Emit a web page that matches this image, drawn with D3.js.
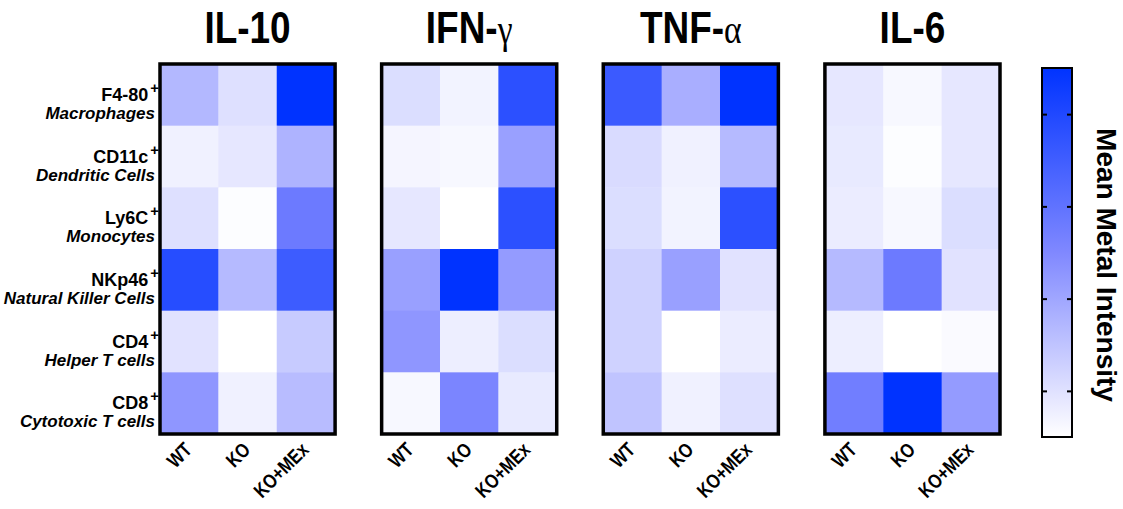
<!DOCTYPE html>
<html>
<head>
<meta charset="utf-8">
<script src="https://cdn.jsdelivr.net/npm/d3@7"></script>
<style>
  body { margin: 0; background: #fff; }
  svg { display: block; }
  text { font-family: "Liberation Sans", Arial, sans-serif; fill: #000; }
</style>
</head>
<body>
<svg id="chart"></svg>
<script>
const cytokines = ["IL-10", "IFN-γ", "TNF-α", "IL-6"];
const groups = ["WT", "KO", "KO+MEx"];
const markers = ["F4-80", "CD11c", "Ly6C", "NKp46", "CD4", "CD8"];
const cellTypes = ["Macrophages", "Dendritic Cells", "Monocytes",
  "Natural Killer Cells", "Helper T cells", "Cytotoxic T cells"];

// relative intensity, rows = markers, columns = groups
const il10 = [
  [0.30, 0.13, 1.00],
  [0.06, 0.10, 0.32],
  [0.13, 0.01, 0.58],
  [0.85, 0.29, 0.76],
  [0.12, 0.00, 0.22],
  [0.44, 0.06, 0.28]
];
const ifng = [
  [0.14, 0.05, 0.83],
  [0.04, 0.03, 0.40],
  [0.10, 0.00, 0.83],
  [0.40, 1.00, 0.42],
  [0.44, 0.07, 0.14],
  [0.03, 0.52, 0.09]
];
const tnfa = [
  [0.77, 0.34, 1.00],
  [0.15, 0.06, 0.29],
  [0.14, 0.05, 0.83],
  [0.19, 0.40, 0.12],
  [0.19, 0.00, 0.08],
  [0.25, 0.06, 0.13]
];
const il6 = [
  [0.10, 0.03, 0.10],
  [0.09, 0.01, 0.10],
  [0.08, 0.03, 0.14],
  [0.29, 0.58, 0.12],
  [0.07, 0.00, 0.02],
  [0.56, 1.00, 0.42]
];
const colorTicks = [0.125, 0.375, 0.625, 0.875];
const colorLabel = "Mean Metal Intensity";

const WIDTH = 1123;
const HEIGHT = 509;
const TOP = 64;
const BOTTOM = 434;

const svg = d3.select("#chart").attr("width", WIDTH).attr("height", HEIGHT);

const panelX = d3.scaleBand().domain(cytokines).range([160, 1000]).paddingInner(0.21);
const rowY = d3.scaleBand().domain(markers).range([TOP, BOTTOM]);
const colX = d3.scaleBand().domain(groups).range([0, panelX.bandwidth()]);
const color = d3.scaleLinear()
  .domain([0, 0.5, 1])
  .range(["#ffffff", "#8088ff", "#0033ff"]);

const panels = cytokines.map((name, i) => ({ name, rows: [il10, ifng, tnfa, il6][i] }));

const panel = svg.selectAll("g.panel")
  .data(panels)
  .enter()
  .append("g")
  .attr("class", "panel")
  .attr("transform", p => `translate(${panelX(p.name)},0)`);

// cells
panel.selectAll("rect.cell")
  .data(p => p.rows.flatMap((row, r) => row.map((v, c) => ({ v, r, c }))))
  .enter()
  .append("rect")
  .attr("class", "cell")
  .attr("x", d => colX(groups[d.c]))
  .attr("y", d => rowY(markers[d.r]))
  .attr("width", colX.bandwidth() + 0.5)
  .attr("height", rowY.bandwidth() + 0.5)
  .attr("fill", d => color(d.v));

// frame
panel.append("rect")
  .attr("x", 0)
  .attr("y", TOP)
  .attr("width", panelX.bandwidth())
  .attr("height", BOTTOM - TOP)
  .attr("fill", "none")
  .attr("stroke", "#000")
  .attr("stroke-width", 3.5);

// titles
const title = panel.append("text")
  .attr("text-anchor", "middle")
  .attr("transform", `translate(${panelX.bandwidth() / 2},43) scale(0.84,1)`)
  .style("font-size", "44px")
  .style("font-weight", "bold");
title.append("tspan").text(p => p.name.replace(/[α-ω]$/, ""));
title.append("tspan")
  .style("font-family", "'Liberation Serif', serif")
  .style("font-weight", "normal")
  .style("font-size", "40px")
  .text(p => (p.name.match(/[α-ω]$/) || [""])[0]);

// x labels
panel.selectAll("text.xlab")
  .data(groups)
  .enter()
  .append("text")
  .attr("class", "xlab")
  .attr("text-anchor", "end")
  .attr("transform", g =>
    `translate(${colX(g) + colX.bandwidth() / 2 + 4},${BOTTOM + 17}) rotate(-45) scale(0.82,1)`)
  .style("font-size", "20px")
  .style("font-weight", "bold")
  .text(g => g);

// row labels
const rowLab = svg.append("g");
const first = rowLab.selectAll("text.marker")
  .data(markers)
  .enter()
  .append("text")
  .attr("class", "marker")
  .attr("x", 159)
  .attr("y", m => rowY(m) + rowY.bandwidth() / 2 + 6)
  .attr("text-anchor", "end")
  .style("font-size", "18px")
  .style("font-weight", "bold");
first.append("tspan").text(m => m);
first.append("tspan").attr("dx", 2).attr("dy", -8).style("font-size", "15px").text("+");

rowLab.selectAll("text.cell-type")
  .data(cellTypes)
  .enter()
  .append("text")
  .attr("class", "cell-type")
  .attr("x", 155)
  .attr("y", (t, i) => rowY(markers[i]) + rowY.bandwidth() / 2 + 24)
  .attr("text-anchor", "end")
  .style("font-size", "17px")
  .style("font-weight", "bold")
  .style("font-style", "italic")
  .text(t => t);

// colour bar
const CB_X = 1042, CB_W = 30, CB_TOP = 68, CB_BOTTOM = 437;
const grad = svg.append("defs").append("linearGradient")
  .attr("id", "cbar")
  .attr("x1", 0).attr("y1", 1).attr("x2", 0).attr("y2", 0);
grad.selectAll("stop")
  .data(d3.range(0, 1.0001, 0.1))
  .enter()
  .append("stop")
  .attr("offset", t => t)
  .attr("stop-color", t => color(t));

const cbY = d3.scaleLinear().domain([0, 1]).range([CB_BOTTOM, CB_TOP]);

svg.append("rect")
  .attr("x", CB_X)
  .attr("y", CB_TOP)
  .attr("width", CB_W)
  .attr("height", CB_BOTTOM - CB_TOP)
  .attr("fill", "url(#cbar)")
  .attr("stroke", "#000")
  .attr("stroke-width", 2);

const leftTicks = svg.append("g")
  .attr("transform", `translate(${CB_X},0)`)
  .call(d3.axisRight(cbY).tickValues(colorTicks).tickSize(5).tickFormat(""));
const rightTicks = svg.append("g")
  .attr("transform", `translate(${CB_X + CB_W},0)`)
  .call(d3.axisLeft(cbY).tickValues(colorTicks).tickSize(5).tickFormat(""));
[leftTicks, rightTicks].forEach(a => {
  a.select(".domain").remove();
  a.selectAll("line").attr("stroke", "#000").attr("stroke-width", 2);
});

svg.append("text")
  .attr("transform", `translate(1097,265) rotate(90)`)
  .attr("text-anchor", "middle")
  .style("font-size", "28px")
  .style("font-weight", "bold")
  .text(colorLabel);
</script>
</body>
</html>
